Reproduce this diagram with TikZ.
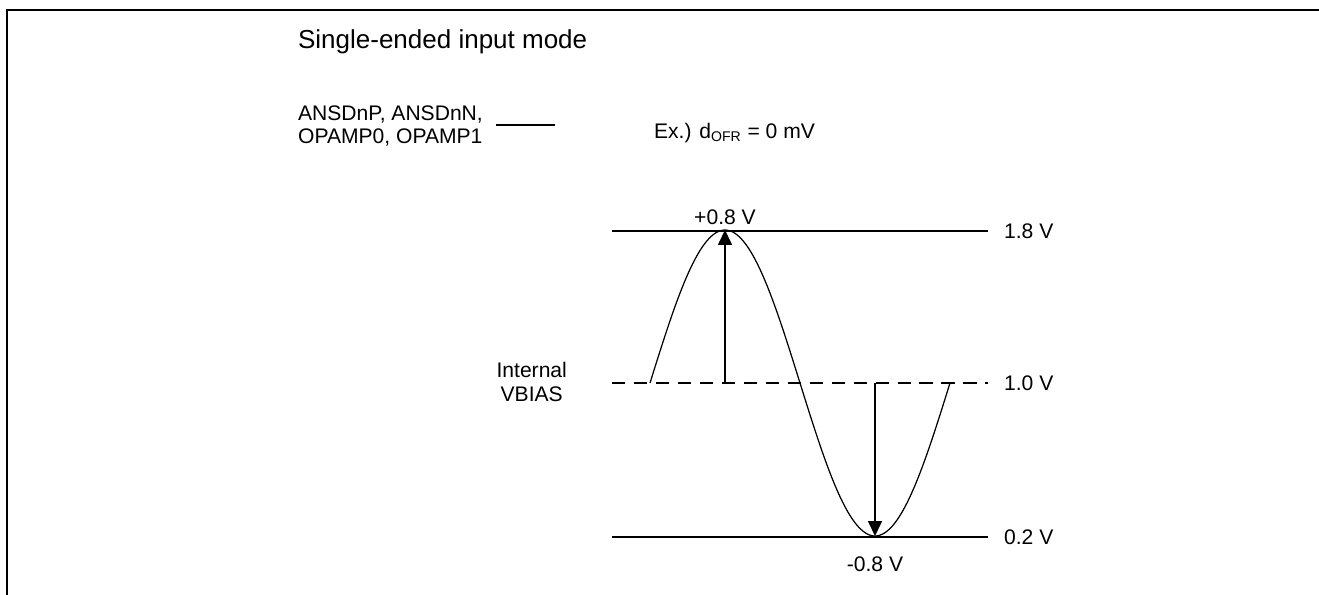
\documentclass[tikz,border=0pt]{standalone}
\usepackage{fontspec}
\setmainfont{Liberation Sans}
\usetikzlibrary{arrows.meta,positioning}
\tikzset{
  frame/.style={draw=black,line width=1.3pt},
  level/.style={draw=black,line width=1.5pt},
  bias/.style={draw=black,line width=0.7pt,dash pattern=on 7.5pt off 5pt},
  wave/.style={draw=black,line width=0.7pt},
  swing/.style={-{Triangle[length=8.5pt,width=8pt]},draw=black,line width=0.7pt},
  lbl/.style={font=\fontsize{12}{13.5}\selectfont,inner sep=1pt},
  ttl/.style={font=\fontsize{14.8}{17}\selectfont,inner sep=1pt},
}
\begin{document}
\begin{tikzpicture}[x=0.02cm,y=-0.02cm]
  \useasboundingbox (0,0) rectangle (1319,595);
  \draw[frame] (7,595) -- (7,10) -- (1319,10);
  \node[ttl,anchor=west] (title) at (296,42) {Single-ended input mode};
  % legend
  \node[lbl,anchor=west,align=left] (legend) at (296,126)
    {ANSDnP, ANSDnN,\\OPAMP0, OPAMP1};
  \coordinate (legA) at (496,125);
  \coordinate (legB) at (555,125);
  \draw[wave] (legA) -- (legB);
  \node[lbl,anchor=west] (ex) at (652,133) {Ex.) d\textsubscript{OFR} = 0 mV};
  % levels
  \coordinate (hiL) at (612,231);  \coordinate (hiR) at (988,231);
  \coordinate (midL) at (612,383); \coordinate (midR) at (988,383);
  \coordinate (loL) at (612,537);  \coordinate (loR) at (988,537);
  \draw[level] (hiL) -- (hiR);
  \draw[bias] (midL) -- (midR);
  \draw[level] (loL) -- (loR);
  \node[lbl,anchor=west] (vhi) at (1002,231) {1.8 V};
  \node[lbl,anchor=west] (vmid) at (1002,383) {1.0 V};
  \node[lbl,anchor=west] (vlo) at (1002,537) {0.2 V};
  \node[lbl,anchor=east,align=center] (vbias) at (569,382) {Internal\\VBIAS};
  % signal
  \draw[wave] plot[domain=650:950,samples=121] (\x,{383-153*sin((\x-650)*1.2)});
  \coordinate (peak) at (725,230);
  \coordinate (trough) at (875,536);
  \coordinate (peakB) at (725,383);
  \coordinate (troughB) at (875,383);
  \draw[swing] (peakB) -- (peak);
  \draw[swing] (troughB) -- (trough);
  \node[lbl,above=2pt of peak] (plus) {+0.8 V};
  \node[lbl,below=16pt of trough,anchor=center] (minus) {-0.8 V};
\end{tikzpicture}
\end{document}
